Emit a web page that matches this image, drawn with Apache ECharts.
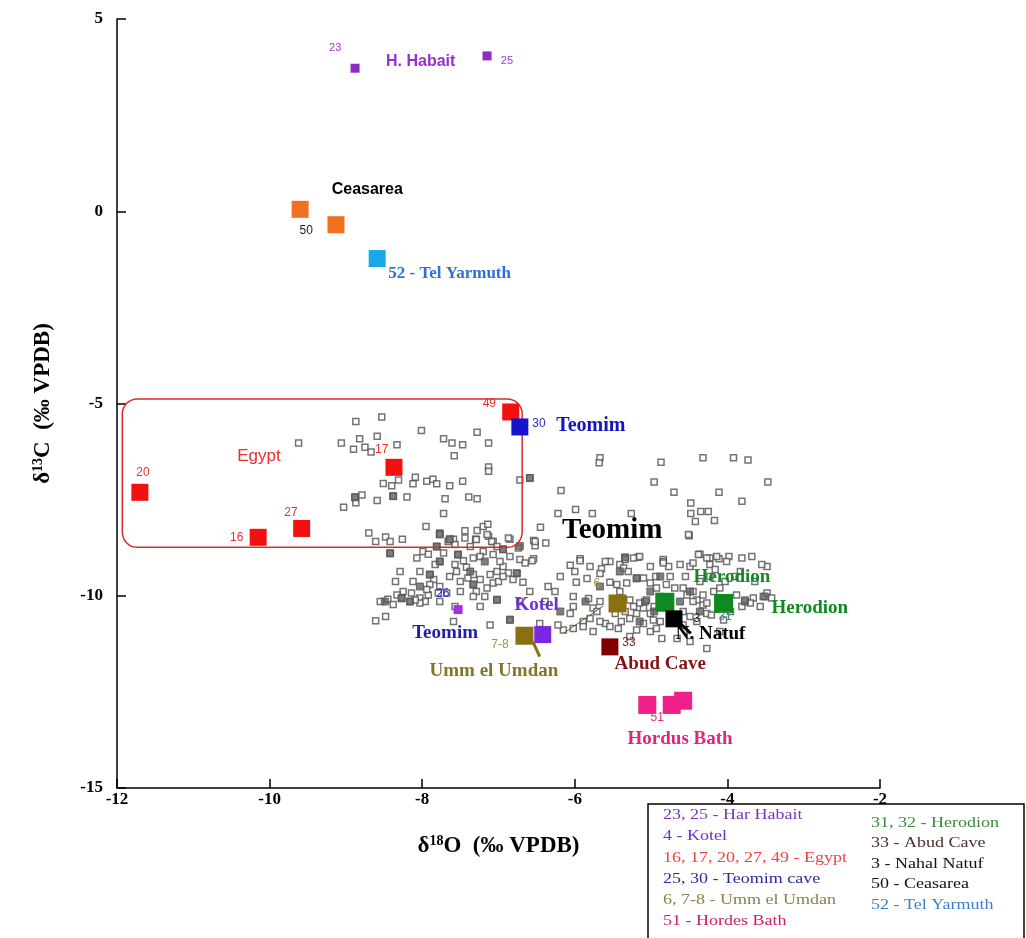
<!DOCTYPE html>
<html><head><meta charset="utf-8">
<script src="https://cdn.jsdelivr.net/npm/echarts@6/dist/echarts.min.js"></script>
<style>html,body{margin:0;padding:0;background:#fff}#c{width:1026px;height:938px}</style>
</head><body><div id="c"></div>
<script>
// ---------- data ----------
const xTicks = [-12, -10, -8, -6, -4, -2];
const yTicks = [-15, -10, -5, 0, 5];

// background (grey) samples: [d18O, d13C]
const greySamples = [
[-8.53,-5.35],[-8.87,-5.47],[-8.01,-5.70],[-7.28,-5.75],[-8.59,-5.85],[-8.82,-5.92],[-7.72,-5.92],[-9.06,-6.03],
[-7.61,-6.03],[-7.47,-6.07],[-7.13,-6.03],[-8.33,-6.07],[-8.75,-6.14],[-8.90,-6.19],[-8.67,-6.26],[-7.58,-6.36],
[-7.13,-6.65],[-7.13,-6.76],[-8.31,-6.99],[-8.09,-6.92],[-8.12,-7.09],[-7.94,-7.02],[-7.86,-6.97],[-7.81,-7.09],
[-7.47,-7.02],[-7.64,-7.14],[-8.51,-7.08],[-8.40,-7.14],[-6.72,-6.99],[-8.88,-7.43],[-8.79,-7.38],[-8.87,-7.58],
[-8.38,-7.41],[-8.20,-7.43],[-8.59,-7.52],[-7.70,-7.48],[-7.39,-7.43],[-7.28,-7.48],[-9.03,-7.70],[-7.72,-7.86],
[-7.95,-8.20],[-7.77,-8.37],[-7.44,-8.31],[-7.28,-8.30],[-7.20,-8.20],[-7.14,-8.14],[-8.70,-8.37],[-8.48,-8.47],
[-8.42,-8.59],[-8.61,-8.59],[-8.26,-8.53],[-7.59,-8.53],[-7.66,-8.59],[-7.30,-8.53],[-7.13,-8.45],[-7.07,-8.59],
[-6.85,-8.53],[-6.74,-8.76],[-9.62,-6.03],[-6.59,-6.93],
[-5.67,-6.41],[-5.68,-6.54],[-4.87,-6.53],[-4.32,-6.41],[-3.92,-6.41],[-3.73,-6.47],[-3.47,-7.04],[-4.96,-7.04],
[-6.18,-7.26],[-4.70,-7.31],[-4.11,-7.31],[-3.81,-7.54],[-4.48,-7.59],[-5.99,-7.76],[-5.77,-7.86],[-5.26,-7.86],
[-6.22,-7.86],[-4.48,-7.86],[-4.35,-7.81],[-4.25,-7.81],[-4.42,-8.07],[-4.17,-8.04],[-4.50,-8.44],[-6.45,-8.22],
[-6.54,-8.56],[-6.52,-8.70],[-6.38,-8.63],[-6.54,-9.04],[-5.93,-9.04],[-5.34,-9.02],[-5.17,-9.00],[-4.84,-9.06],
[-4.36,-8.92],[-4.23,-9.02],[-4.11,-9.04],[-3.98,-8.98],[-3.81,-9.02],[-3.68,-8.98],
[-8.42,-8.89],[-8.07,-9.02],[-7.99,-8.85],[-7.92,-8.92],[-7.77,-8.41],[-7.64,-8.54],[-7.57,-8.67],[-7.44,-8.50],
[-7.29,-8.54],[-7.15,-8.41],[-7.09,-8.59],[-7.02,-8.72],[-6.94,-8.80],[-6.87,-8.50],[-7.81,-8.72],[-7.72,-8.89],
[-7.53,-8.93],[-7.46,-9.09],[-7.77,-9.11],[-7.83,-9.19],[-7.57,-9.19],[-7.33,-9.02],[-7.20,-8.85],[-7.07,-8.93],
[-6.72,-9.06],[-6.65,-9.15],[-6.56,-9.09],[-6.52,-8.59],
[-7.55,-9.37],[-7.42,-9.26],[-7.33,-9.45],[-7.24,-9.58],[-7.40,-9.54],[-7.50,-9.63],[-7.33,-9.71],[-7.29,-9.89],
[-7.15,-9.80],[-7.07,-9.67],[-7.00,-9.63],[-7.11,-9.45],[-7.02,-9.37],[-6.94,-9.24],[-6.87,-9.41],[-6.76,-9.41],
[-6.68,-9.65],[-6.81,-9.58],[-6.94,-9.50],[-7.90,-9.45],[-7.85,-9.58],[-7.77,-9.76],[-7.79,-9.93],[-7.90,-9.71],
[-8.12,-9.63],[-8.14,-9.93],[-8.25,-9.89],[-8.33,-9.98],[-8.27,-10.06],[-8.16,-10.15],[-8.03,-10.06],[-7.96,-10.15],
[-7.92,-9.98],[-8.03,-10.19],[-8.09,-10.11],[-7.94,-9.84],[-7.68,-9.93],[-7.33,-10.02],[-7.18,-10.02],[-7.02,-10.11],
[-6.35,-9.76],[-6.85,-10.63],[-7.11,-10.76],[-8.61,-10.65],[-8.48,-10.54],[-7.59,-10.67],
[-8.45,-10.09],[-8.38,-10.23],[-8.55,-10.15],
[-6.06,-9.21],[-5.93,-9.09],[-5.65,-9.30],[-5.41,-9.19],[-5.34,-9.06],[-5.23,-9.02],[-5.15,-8.98],[-5.36,-9.28],
[-5.30,-9.37],[-4.84,-9.11],[-4.77,-9.24],[-4.62,-9.19],[-4.38,-8.93],[-4.27,-9.02],[-4.14,-8.98],[-3.48,-9.24],
[-4.49,-9.24],[-5.98,-9.65],[-5.54,-9.65],[-5.45,-9.71],[-5.32,-9.67],[-5.19,-9.54],[-5.10,-9.54],[-5.01,-9.67],
[-4.93,-9.80],[-4.80,-9.71],[-4.69,-9.80],[-4.58,-9.80],[-4.45,-9.89],[-4.32,-9.98],[-4.18,-9.89],[-4.10,-9.80],
[-3.88,-9.98],[-3.77,-10.11],[-3.66,-10.06],[-3.53,-10.02],[-3.70,-10.19],[-3.81,-10.28],[-4.32,-10.24],[-4.40,-10.11],
[-5.67,-10.15],[-5.76,-10.32],[-6.02,-10.28],[-6.06,-10.46],[-5.89,-10.67],[-6.15,-10.89],[-6.02,-10.85],[-5.89,-10.80],
[-5.76,-10.93],[-5.60,-10.72],[-5.54,-10.80],[-5.43,-10.85],[-5.39,-10.67],[-5.28,-10.59],[-5.19,-10.46],[-5.10,-10.32],
[-5.15,-10.19],[-5.06,-10.11],[-5.23,-10.28],[-5.28,-10.11],[-5.01,-10.46],[-4.97,-10.63],[-5.10,-10.72],[-5.19,-10.89],
[-5.01,-10.93],[-4.86,-11.11],[-4.93,-10.85],[-4.58,-10.41],[-4.49,-10.54],[-4.40,-10.67],[-4.27,-10.46],[-4.66,-11.11],
[-4.58,-10.76],[-6.22,-10.76],
[-4.51,-8.41],[-4.23,-9.19],[-4.01,-9.11],[-3.55,-9.19],[-4.84,-9.15],[-4.45,-9.15],[-4.16,-9.32],[-3.83,-9.37],
[-3.48,-9.93],[-3.42,-10.06],[-4.27,-10.19],[-4.21,-10.50],[-4.05,-10.63],[-4.53,-9.98],[-4.45,-10.15],[-4.27,-11.37],
[-6.46,-10.72],[-5.80,-10.59],[-5.84,-9.55],[-5.67,-9.42],[-6.02,-10.02],[-5.82,-10.07],[-5.71,-10.41],
[-5.41,-9.89],[-4.89,-10.02],[-4.96,-10.28],[-4.79,-10.15],[-5.34,-10.41],[-5.50,-10.15],
[-7.37,-8.72],[-7.24,-8.98],[-6.98,-9.11],[-6.85,-8.98],[-7.50,-9.89],[-7.64,-9.50],[-8.03,-9.37],[-8.29,-9.37],
[-8.35,-9.63],[-7.77,-10.15],[-7.57,-10.28],[-7.24,-10.28],[-6.72,-10.15],[-6.59,-9.89],[-6.39,-10.15],[-6.26,-9.89],
[-6.19,-9.50],[-6.00,-9.37],[-5.54,-9.11],[-5.01,-9.24],[-4.94,-9.50],[-4.75,-9.50],[-4.55,-9.50],[-4.36,-9.63],
[-4.23,-9.50],[-4.03,-9.63],[-3.90,-9.50],[-3.64,-9.63],[-3.57,-10.28],[-3.96,-10.41],[-4.88,-10.67],[-5.28,-11.06],
[-5.47,-10.46],[-5.67,-10.67],[-4.49,-11.19],[-4.10,-10.93],[-5.60,-9.11],[-5.80,-9.24]
];
// overlapping (filled-looking) samples in the densest spots
const denseSamples = [
[-8.42,-8.90],[-7.77,-8.40],[-7.64,-8.53],[-6.94,-8.79],[-7.81,-8.72],[-7.53,-8.93],[-7.77,-9.11],[-7.90,-9.45],
[-7.33,-9.71],[-8.27,-10.07],[-8.16,-10.15],[-7.02,-10.10],[-6.76,-9.42],[-6.85,-10.62],[-6.59,-6.94],[-8.88,-7.44],
[-8.38,-7.41],[-5.19,-9.55],[-5.01,-9.89],[-5.08,-10.15],[-4.96,-10.41],[-5.15,-10.67],[-4.62,-10.15],[-4.49,-9.89],
[-4.36,-10.41],[-5.41,-9.37],[-5.67,-9.76],[-5.86,-10.15],[-6.19,-10.41],[-3.51,-10.02],[-3.77,-10.15],[-4.88,-9.50],
[-5.34,-9.00],[-7.37,-9.37],[-7.18,-9.11],[-8.03,-9.76],[-8.49,-10.15],[-6.72,-8.71]
];

// labelled sites
const habait     = [[-8.88, 3.72], [-7.15, 4.04]];
const ceasarea   = [[-9.60, 0.05], [-9.13, -0.35]];
const telYarmuth = [[-8.59, -1.23]];
const egypt      = [[-11.70, -7.31], [-10.15, -8.48], [-9.58, -8.25], [-8.37, -6.66], [-6.84, -5.22]];
const teomim30   = [[-6.72, -5.61]];
const teomim26   = [[-7.53, -10.36]];
const kotel      = [[-6.42, -11.01]];
const ummElUmdan = [[-6.66, -11.04], [-5.44, -10.20]];
const abudCave   = [[-5.54, -11.33]];
const herodion   = [[-4.82, -10.17], [-4.05, -10.20]];
const nahalNatuf = [[-4.70, -10.60]];
const hordusBath = [[-5.05, -12.84], [-4.73, -12.84], [-4.58, -12.73]];

// Egypt envelope: [xMin, yTop, xMax, yBottom]
const egyptBox = [-11.93, -4.88, -6.69, -8.74];

// pointer lines [[x1,y1],[x2,y2]]
const ummArrow   = [[-6.46, -11.58], [-6.55, -11.19]];
const ummLine    = [[-6.15, -10.98], [-5.63, -10.27]];
const natufArrow = [[-4.48, -10.98], [-4.63, -10.70]];

// annotation texts: [text, x, y, style]
const annotations = [
  ['H. Habait', -8.02, 3.88, 'habait'],
  ['23', -9.14, 4.24, 'habaitNum'],
  ['25', -6.89, 3.90, 'habaitNum'],
  ['Ceasarea', -8.72, 0.57, 'ceas'],
  ['50', -9.52, -0.50, 'blackNum'],
  ['52 - Tel Yarmuth', -7.64, -1.62, 'yarmuth'],
  ['Egypt', -10.14, -6.37, 'egypt'],
  ['20', -11.66, -6.79, 'egyptNum'],
  ['16', -10.43, -8.48, 'egyptNum'],
  ['27', -9.72, -7.83, 'egyptNum'],
  ['17', -8.53, -6.19, 'egyptNum'],
  ['49', -7.12, -5.01, 'egyptNum'],
  ['30', -6.47, -5.53, 'teomimNum'],
  ['Teomim', -5.79, -5.59, 'teomimBlue'],
  ['Teomim', -5.51, -8.30, 'teomimBig'],
  ['Herodion', -3.94, -9.52, 'herodion'],
  ['Herodion', -2.92, -10.33, 'herodion'],
  ['31', -4.03, -10.54, 'herodionNum'],
  ['3', -4.40, -10.59, 'blackNum'],
  ['N. Natuf', -4.22, -11.01, 'natuf'],
  ['Kotel', -6.50, -10.25, 'kotel'],
  ['26', -7.73, -9.94, 'teomimNum'],
  ['Teomim', -7.70, -10.98, 'teomimLow'],
  ['Umm el Umdan', -7.06, -11.97, 'umm'],
  ['7-8', -6.98, -11.27, 'ummNum'],
  ['6', -5.71, -9.68, 'ummNum'],
  ['Abud Cave', -4.88, -11.79, 'abud'],
  ['33', -5.29, -11.22, 'abudNum'],
  ['Hordus Bath', -4.62, -13.72, 'hordus'],
  ['51', -4.92, -13.17, 'hordusNum']
];

const legendLeft = [
  ['23, 25 - Har Habait', '#7b35b8'],
  ['4 - Kotel', '#6a2fcc'],
  ['16, 17, 20, 27, 49 - Egypt', '#e8453c'],
  ['25, 30 - Teomim cave', '#2b2b9c'],
  ['6, 7-8 - Umm el Umdan', '#8d8048'],
  ['51 - Hordes Bath', '#c8206c']
];
const legendRight = [
  ['31, 32 - Herodion', '#3b8a3b'],
  ['33 - Abud Cave', '#4a2a2a'],
  ['3 - Nahal Natuf', '#111111'],
  ['50 - Ceasarea', '#111111'],
  ['52 - Tel Yarmuth', '#3a7fd0']
];

// ---------- styles ----------
const SANS = 'Liberation Sans, Arial, sans-serif';
const SERIF = 'Liberation Serif, Times New Roman, serif';
const textStyles = {
  habait:     {color:'#9530d0', fontFamily:SANS, fontWeight:'bold', fontSize:16},
  habaitNum:  {color:'#9b3ad0', fontFamily:SANS, fontSize:11},
  ceas:       {color:'#000', fontFamily:SANS, fontWeight:'bold', fontSize:16},
  blackNum:   {color:'#222', fontFamily:SANS, fontSize:12},
  yarmuth:    {color:'#2f70d8', fontFamily:SERIF, fontWeight:'bold', fontSize:17},
  egypt:      {color:'#e8302c', fontFamily:SANS, fontSize:17},
  egyptNum:   {color:'#e8302c', fontFamily:SANS, fontSize:12},
  teomimNum:  {color:'#2a2acc', fontFamily:SANS, fontSize:12},
  teomimBlue: {color:'#1414c0', fontFamily:SERIF, fontWeight:'bold', fontSize:20},
  teomimBig:  {color:'#000', fontFamily:SERIF, fontWeight:'bold', fontSize:29},
  herodion:   {color:'#108a22', fontFamily:SERIF, fontWeight:'bold', fontSize:19},
  herodionNum:{color:'#3a8a8a', fontFamily:SANS, fontSize:12},
  natuf:      {color:'#000', fontFamily:SERIF, fontWeight:'bold', fontSize:19},
  kotel:      {color:'#7030d8', fontFamily:SERIF, fontWeight:'bold', fontSize:19},
  teomimLow:  {color:'#1e1ea8', fontFamily:SERIF, fontWeight:'bold', fontSize:19},
  umm:        {color:'#857528', fontFamily:SERIF, fontWeight:'bold', fontSize:19},
  ummNum:     {color:'#a89040', fontFamily:SANS, fontSize:12},
  abud:       {color:'#851515', fontFamily:SERIF, fontWeight:'bold', fontSize:19},
  abudNum:    {color:'#8a1a1a', fontFamily:SANS, fontSize:12},
  hordus:     {color:'#e02580', fontFamily:SERIF, fontWeight:'bold', fontSize:19},
  hordusNum:  {color:'#e02a80', fontFamily:SANS, fontSize:12}
};

function siteSeries(name, data, color, size) {
  return {
    name, type: 'scatter', data, symbol: 'rect', symbolSize: size,
    itemStyle: {color, opacity: 1}, z: 5, silent: true
  };
}

const chart = echarts.init(document.getElementById('c'), null, {renderer: 'canvas'});
const axisLabelStyle = {color:'#000', fontFamily:SERIF, fontWeight:'bold', fontSize:17};

chart.setOption({
  animation: false,
  backgroundColor: '#fff',
  grid: {left: 117, right: 146, top: 19, bottom: 150},
  xAxis: {
    type: 'value', min: xTicks[0], max: xTicks[xTicks.length-1], interval: 2,
    axisLine: {show: true, onZero: false, lineStyle: {color: '#000', width: 1.5}},
    axisTick: {inside: true, length: 9, lineStyle: {color: '#000', width: 1.5}},
    axisLabel: Object.assign({margin: 3}, axisLabelStyle),
    splitLine: {show: false},
    name: '{a|δ}{s|18}{a|O  (‰ VPDB)}', nameLocation: 'middle', nameGap: 46,
    nameTextStyle: {rich: {
      a: {fontFamily: SERIF, fontWeight: 'bold', fontSize: 23, color: '#000'},
      s: {fontFamily: SERIF, fontWeight: 'bold', fontSize: 14, color: '#000', verticalAlign: 'top', padding: [0,0,10,0]}
    }}
  },
  yAxis: {
    type: 'value', min: yTicks[0], max: yTicks[yTicks.length-1], interval: 5,
    axisLine: {show: true, onZero: false, lineStyle: {color: '#000', width: 1.5}},
    axisTick: {inside: true, length: 9, lineStyle: {color: '#000', width: 1.5}},
    axisLabel: Object.assign({margin: 14}, axisLabelStyle),
    splitLine: {show: false},
    name: '{a|δ}{s|13}{a|C  (‰ VPDB)}', nameLocation: 'middle', nameGap: 62,
    nameTextStyle: {rich: {
      a: {fontFamily: SERIF, fontWeight: 'bold', fontSize: 23, color: '#000'},
      s: {fontFamily: SERIF, fontWeight: 'bold', fontSize: 14, color: '#000', verticalAlign: 'top', padding: [0,0,10,0]}
    }}
  },
  series: [
    {
      name: 'samples', type: 'scatter', data: greySamples, symbol: 'rect', symbolSize: 6,
      itemStyle: {color: '#fff', borderColor: '#505050', borderWidth: 1.5}, z: 2, silent: true
    },
    {
      name: 'dense', type: 'scatter', data: denseSamples, symbol: 'rect', symbolSize: 7,
      itemStyle: {color: '#5f5f5f', borderColor: '#555', borderWidth: 1}, z: 2, silent: true
    },
    siteSeries('Har Habait', habait, '#8e2cc8', 9),
    siteSeries('Ceasarea', ceasarea, '#f07020', 17),
    siteSeries('Tel Yarmuth', telYarmuth, '#18a8e8', 17),
    siteSeries('Egypt', egypt, '#f21010', 17),
    siteSeries('Teomim 30', teomim30, '#1414d0', 17),
    siteSeries('Teomim 26', teomim26, '#a030e0', 9),
    siteSeries('Umm el Umdan', ummElUmdan, '#8a7010', 18),
    siteSeries('Kotel', kotel, '#7a28e0', 17),
    siteSeries('Abud Cave', abudCave, '#800000', 17),
    siteSeries('Herodion', herodion, '#108a20', 19),
    siteSeries('Nahal Natuf', nahalNatuf, '#000000', 17),
    siteSeries('Hordus Bath', hordusBath, '#f0208a', 18),
    {type: 'line', data: ummArrow, showSymbol: false, z: 6, silent: true,
      lineStyle: {color: '#8a7010', width: 3}},
    {type: 'line', data: ummLine, showSymbol: false, z: 6, silent: true,
      lineStyle: {color: '#6a6030', width: 1}},
    {type: 'line', data: natufArrow, showSymbol: false, z: 6, silent: true,
      lineStyle: {color: '#000', width: 3}},
    {
      name: 'annotations', type: 'scatter', symbol: 'circle', symbolSize: 1, z: 10, silent: true,
      itemStyle: {color: 'rgba(0,0,0,0)'},
      data: annotations.map(a => ({
        value: [a[1], a[2]],
        label: Object.assign({show: true, position: 'inside', formatter: a[0], align: 'center',
          verticalAlign: 'middle', opacity: 1, textBorderWidth: 0}, textStyles[a[3]])
      }))
    }
  ]
});

// Egypt envelope + legend box
function drawGraphics() {
  const p1 = chart.convertToPixel({gridIndex: 0}, [egyptBox[0], egyptBox[1]]);
  const p2 = chart.convertToPixel({gridIndex: 0}, [egyptBox[2], egyptBox[3]]);
  const els = [{
    type: 'rect', z: 3, silent: true,
    shape: {x: p1[0], y: p1[1], width: p2[0]-p1[0], height: p2[1]-p1[1], r: 15},
    style: {fill: 'none', stroke: '#e02828', lineWidth: 1.5}
  }, {
    type: 'rect', z: 20, silent: true,
    shape: {x: 648, y: 804, width: 376, height: 150},
    style: {fill: '#fff', stroke: '#000', lineWidth: 1.5}
  }];
  legendLeft.forEach((l, i) => els.push({
    type: 'text', z: 21, silent: true, x: 663, y: 815 + i*21.3, scaleX: 1.2,
    style: {text: l[0], fill: l[1], font: '15px ' + SERIF, verticalAlign: 'middle'}
  }));
  legendRight.forEach((l, i) => els.push({
    type: 'text', z: 21, silent: true, x: 871, y: 823 + i*20.5, scaleX: 1.2,
    style: {text: l[0], fill: l[1], font: '15px ' + SERIF, verticalAlign: 'middle'}
  }));
  chart.setOption({graphic: els});
}
drawGraphics();
</script></body></html>
